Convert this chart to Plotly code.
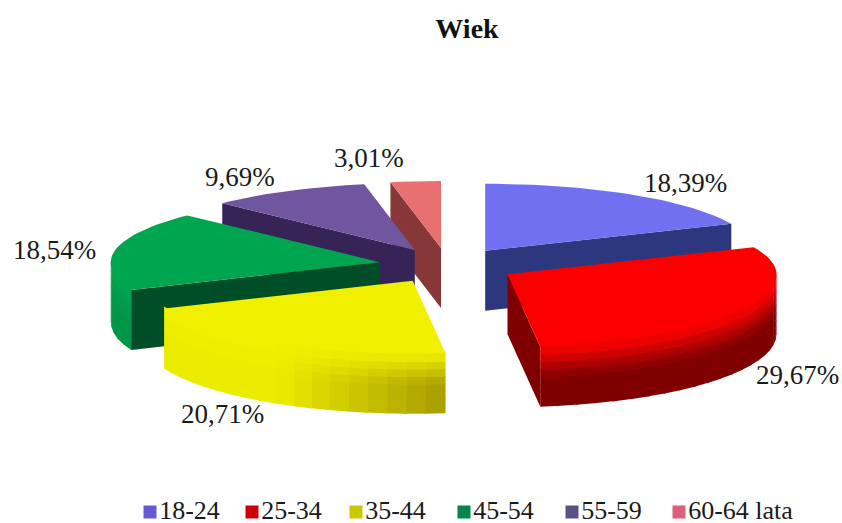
import math
import plotly.graph_objects as go

categories = ["18-24", "25-34", "35-44", "45-54", "55-59", "60-64 lata"]
values = [18.39, 29.67, 20.71, 18.54, 9.69, 3.01]
title = "Wiek"

top_colors = [(112, 112, 240), (252, 0, 0), (240, 240, 0), (0, 165, 80), (112, 86, 158), (232, 112, 112)]
face_colors = [(45, 55, 125), (128, 0, 0), (170, 160, 0), (0, 78, 40), (54, 36, 86), (135, 55, 55)]
rim_colors = [(60, 70, 150), (150, 0, 0), (236, 236, 0), (0, 150, 72), (70, 50, 110), (150, 60, 60)]
legend_colors = [(100, 90, 215), (205, 0, 10), (200, 200, 0), (0, 135, 75), (90, 80, 135), (220, 95, 125)]

# Pseudo-3D projection, in page pixels
CX, CY = 447.5, 265.5
RX, RY_BACK, RY_FRONT = 269, 67, 73
EXPLODE_X, EXPLODE_Y = 69, 17.6
DEPTH = 60
DRAW_ORDER = [5, 4, 0, 3, 2, 1]
LABEL_POS = [(685, 183), (797, 375), (222, 414), (54, 250), (240, 177), (369, 158)]
LEGEND_SQUARE_X = [150, 252, 356, 464, 572, 679]
LEGEND_Y = 512


def rgb(c):
    return "rgb(%d,%d,%d)" % tuple(round(v) for v in c)


def mix(a, b, t):
    return tuple(x + (y - x) * t for x, y in zip(a, b))


def rim_point(ax, ay, deg, dz=0.0):
    r = math.radians(deg)
    c = math.cos(r)
    return ax + RX * math.sin(r), ay - (RY_BACK if c > 0 else RY_FRONT) * c + dz


def rim_shade(deg):
    # light comes from the left: the right-hand front of the rim is darkest
    if deg < 175:
        return 0.0
    return min((deg - 175) / 35.0, 1.0)


fig = go.Figure()


def poly(pts, color):
    fig.add_trace(go.Scatter(
        x=[p[0] for p in pts] + [pts[0][0]],
        y=[p[1] for p in pts] + [pts[0][1]],
        mode="lines", fill="toself", fillcolor=rgb(color),
        line=dict(width=0),
        hoverinfo="skip", showlegend=False))


total = sum(values)
starts, ends = [], []
acc = 0.0
for v in values:
    starts.append(acc)
    acc += v / total * 360
    ends.append(acc)

for i in DRAW_ORDER:
    a0, a1 = starts[i], ends[i]
    mid = math.radians((a0 + a1) / 2)
    ax = CX + EXPLODE_X * math.sin(mid)
    ay = CY - EXPLODE_Y * math.cos(mid)

    # cut faces that look towards the viewer
    if 180 < a0 < 360:
        p = rim_point(ax, ay, a0)
        poly([(ax, ay), p, (p[0], p[1] + DEPTH), (ax, ay + DEPTH)], face_colors[i])
    if 0 < a1 < 180:
        p = rim_point(ax, ay, a1)
        poly([(ax, ay), p, (p[0], p[1] + DEPTH), (ax, ay + DEPTH)], face_colors[i])

    # outer rim: overlapping strips along the arc, shaded with a soft upper bevel
    lo, hi = max(a0, 90), min(a1, 270)
    if hi > lo:
        n = max(1, int((hi - lo) / 4))
        levels = 8
        for lv in reversed(range(levels)):
            z0 = DEPTH * lv / levels - (2 if lv == 0 else 0)
            z1 = min(DEPTH, DEPTH * (lv + 1) / levels + 1)
            for k in range(n):
                d0 = lo + (hi - lo) * k / n
                d1 = min(hi, lo + (hi - lo) * (k + 1) / n + 0.6)
                base = mix(face_colors[i], rim_colors[i], rim_shade((d0 + d1) / 2))
                col = mix(top_colors[i], base, min(1.0, (lv + 0.5) / 4.0))
                poly([rim_point(ax, ay, d0, z0), rim_point(ax, ay, d1, z0),
                      rim_point(ax, ay, d1, z1), rim_point(ax, ay, d0, z1)], col)

    # top surface
    n = max(2, int((a1 - a0) / 2))
    pts = [(ax, ay)] + [rim_point(ax, ay, a0 + (a1 - a0) * k / n) for k in range(n + 1)]
    poly(pts, top_colors[i])

# legend
for c, sq_x, col in zip(categories, LEGEND_SQUARE_X, legend_colors):
    fig.add_trace(go.Scatter(
        x=[sq_x], y=[LEGEND_Y], mode="markers+text",
        marker=dict(symbol="square", size=13, color=rgb(col)),
        text=[c], textposition="middle right",
        textfont=dict(family="Liberation Serif", size=26, color="#1a1a1a"),
        hoverinfo="skip", showlegend=False, cliponaxis=False))

# percentage labels
annotations = [
    dict(x=x, y=y, text=("%.2f%%" % v).replace(".", ","), showarrow=False,
         xanchor="center", yanchor="middle",
         font=dict(family="Liberation Serif", size=27, color="#1a1a1a"))
    for v, (x, y) in zip(values, LABEL_POS)
]

fig.update_layout(
    width=842, height=523, margin=dict(l=0, r=0, t=0, b=0),
    paper_bgcolor="white", plot_bgcolor="white", showlegend=False,
    title=dict(text="<b>%s</b>" % title, x=467 / 842, y=1 - 28 / 523,
               xanchor="center", yanchor="middle",
               font=dict(family="Liberation Serif", size=28, color="#111")),
    xaxis=dict(range=[0, 842], visible=False, fixedrange=True),
    yaxis=dict(range=[523, 0], visible=False, fixedrange=True),
    annotations=annotations,
)
fig.write_html("out.html", config=dict(displayModeBar=False),
               post_script="document.body.style.margin='0';document.body.style.overflow='hidden';")
